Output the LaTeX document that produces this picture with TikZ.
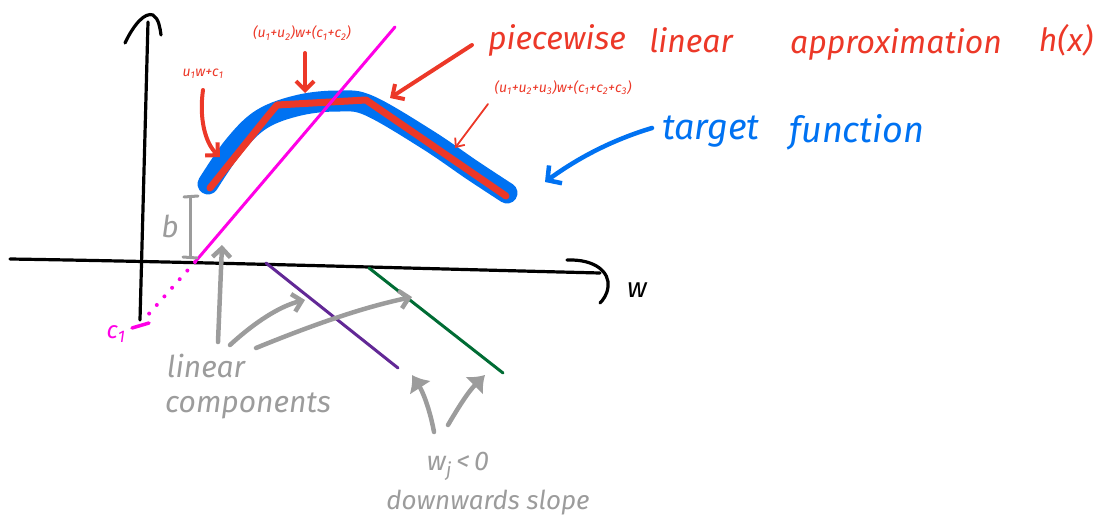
\documentclass[tikz,border=0pt]{standalone}
\usepackage{fontspec}
\setmainfont{Fira Sans}
\usetikzlibrary{arrows.meta}
\definecolor{penred}{RGB}{236,56,40}
\definecolor{penblue}{RGB}{0,114,242}
\definecolor{penmag}{RGB}{255,0,230}
\definecolor{penpurple}{RGB}{98,40,150}
\definecolor{pengreen}{RGB}{0,108,52}
\definecolor{pengray}{RGB}{156,156,156}
\newcommand{\sbs}[1]{\textsubscript{#1}}
\begin{document}
\begin{tikzpicture}[x=1pt,y=-1pt,line cap=round,line join=round,
  axisline/.style={line width=3.2pt,black},
  bluecurve/.style={line width=21pt,penblue},
  redpoly/.style={line width=7pt,penred},
  magline/.style={line width=3pt,penmag},
  compline/.style={line width=3pt},
  grayarrow/.style={line width=4.5pt,pengray,-{Straight Barb[length=9pt,width=18pt,line width=4.5pt]}},
  grayblob/.style={line width=4.5pt,pengray,-{Latex[length=15pt,width=26pt]}},
  redarrow/.style={line width=4pt,penred,-{Straight Barb[length=9pt,width=18pt,line width=4pt]}},
  thinredarrow/.style={line width=1.8pt,penred,-{Straight Barb[length=7pt,width=12pt,line width=1.8pt]}},
  bluearrow/.style={line width=4.5pt,penblue,-{Straight Barb[length=10pt,width=22pt,line width=4.5pt]}},
  hand/.style={inner sep=0pt,font=\itshape},
  redlbl/.style={inner sep=0pt,text=penred,font=\itshape\fontsize{14}{16}\selectfont}
]
\useasboundingbox (0,0) rectangle (1109,527);

% axes
\coordinate (ybot) at (140,320);
\coordinate (ytop) at (148,22);
\draw[axisline] (ybot) -- (ytop);
\draw[axisline] (125,43) .. controls (134,24) and (145,12) .. (153,15) .. controls (159,19) and (160,28) .. (161,35);
\coordinate (xl) at (10,259);
\coordinate (xr) at (600,273);
\draw[axisline] (xl) .. controls (200,262) and (400,268) .. (xr);
\draw[axisline] (567,260) .. controls (595,259) and (610,272) .. (608,287) .. controls (607,295) and (603,300) .. (600,303);
\node[hand,font=\itshape\fontsize{28}{30}\selectfont] (wlab) at (637,290) {w};

% target function and approximation
\draw[bluecurve] plot[smooth,tension=0.6] coordinates {(208,184) (234,146) (262,119) (300,105) (340,101) (370,106) (428,140) (472,170) (507,193)};
\coordinate (r0) at (210,188);
\coordinate (r1) at (267,117);
\coordinate (r2) at (277,105);
\coordinate (r3) at (366,100);
\coordinate (r4) at (506,196);
\draw[redpoly] (r0) -- (r1) -- (r2) -- (r3) -- (r4);

% magenta linear component
\coordinate (m0) at (195,262);
\coordinate (m1) at (395,27);
\coordinate (m2) at (147,316);
\draw[magline] (m0) -- (m1);
\draw[penmag,line width=4pt,dash pattern=on 0pt off 11.5pt] (m0) -- (m2);
\coordinate (c1a) at (132,328);
\coordinate (c1b) at (149,323);
\draw[penmag,line width=3.5pt] (c1a) -- (c1b);
\node[hand,text=penmag,font=\itshape\fontsize{24}{26}\selectfont] (c1lab) at (116,334) {c\sbs{1}};

% b bracket
\coordinate (bt) at (190,197);
\coordinate (bb) at (190,257);
\draw[pengray,line width=3pt] (bt) -- (bb);
\draw[pengray,line width=3pt] (184,197) -- (198,196);
\draw[pengray,line width=3pt] (183,257) -- (197,258);
\node[hand,text=pengray,font=\itshape\fontsize{30}{32}\selectfont] (blab) at (170,226) {b};

% downward components
\coordinate (p0) at (266,263);
\coordinate (p1) at (398,368);
\draw[compline,penpurple] (p0) -- (p1);
\coordinate (g0) at (369,268);
\coordinate (g1) at (503,373);
\draw[compline,pengreen] (g0) -- (g1);

% linear components label
\node[hand,text=pengray,font=\itshape\fontsize{30}{32}\selectfont] (lin) at (206,366) {linear};
\node[hand,text=pengray,font=\itshape\fontsize{30}{32}\selectfont] (comp) at (248,406) {components};
\coordinate (la) at (218,342);
\coordinate (lat) at (222,245);
\coordinate (lb) at (230,345);
\coordinate (lbt) at (305,300);
\coordinate (lc) at (256,348);
\coordinate (lct) at (412,297);
\draw[grayarrow] (la) -- (lat);
\draw[grayarrow] (lb) .. controls (255,322) and (280,306) .. (lbt);
\draw[grayarrow] (lc) .. controls (310,326) and (360,308) .. (lct);

% downward slope label
\node[hand,text=pengray,font=\itshape\fontsize{27}{29}\selectfont] (wj) at (458,466) {w\sbs{j}\,<\,0};
\node[hand,text=pengray,font=\itshape\fontsize{26}{28}\selectfont] (down) at (488,503) {downwards slope};
\coordinate (da) at (434,432);
\coordinate (dat) at (412,375);
\coordinate (db) at (448,425);
\coordinate (dbt) at (485,375);
\draw[grayblob] (da) .. controls (430,410) and (423,392) .. (dat);
\draw[grayblob] (db) .. controls (458,408) and (468,392) .. (dbt);

% red title
\node[hand,text=penred,font=\itshape\fontsize{32}{34}\selectfont] (pw) at (557,40) {piecewise};
\node[hand,text=penred,font=\itshape\fontsize{32}{34}\selectfont] (pl) at (691,40) {linear};
\node[hand,text=penred,font=\itshape\fontsize{32}{34}\selectfont] (pa) at (896,44) {approximation};
\node[hand,text=penred,font=\itshape\fontsize{32}{34}\selectfont] (ph) at (1066,40) {h(x)};
\coordinate (ra) at (472,45);
\coordinate (rat) at (390,98);
\draw[redarrow] (ra) -- (rat);

% red small labels
\node[redlbl] (l1) at (203,74) {u\sbs{1}w+c\sbs{1}};
\coordinate (l1s) at (203,90);
\coordinate (l1t) at (220,157);
\draw[redarrow] (l1s) .. controls (199,118) and (205,143) .. (l1t);
\node[redlbl] (l2) at (302,33) {(u\sbs{1}+u\sbs{2})w+(c\sbs{1}+c\sbs{2})};
\coordinate (l2s) at (305,53);
\coordinate (l2t) at (305,93);
\draw[redarrow] (l2s) -- (l2t);
\node[redlbl] (l3) at (563,88) {(u\sbs{1}+u\sbs{2}+u\sbs{3})w+(c\sbs{1}+c\sbs{2}+c\sbs{3})};
\coordinate (l3s) at (488,104);
\coordinate (l3t) at (455,148);
\draw[thinredarrow] (l3s) -- (l3t);

% target function label
\node[hand,text=penblue,font=\itshape\fontsize{36}{38}\selectfont] (tg) at (711,132) {target};
\node[hand,text=penblue,font=\itshape\fontsize{36}{38}\selectfont] (fn) at (857,132) {function};
\coordinate (ta) at (652,128);
\coordinate (tat) at (545,182);
\draw[bluearrow] (ta) .. controls (612,140) and (578,158) .. (tat);
\end{tikzpicture}
\end{document}
